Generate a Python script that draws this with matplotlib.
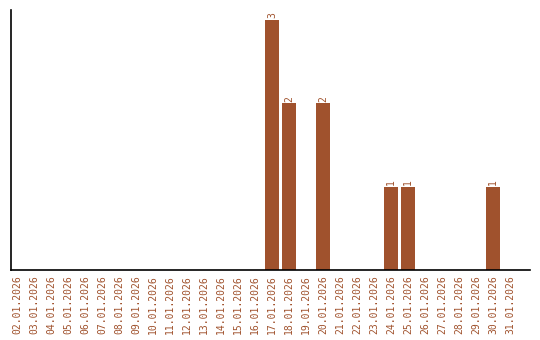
import matplotlib
matplotlib.use("Agg")
import matplotlib.pyplot as plt

dates = [f"{d:02d}.01.2026" for d in range(2, 32)]
counts = [0]*30
values = {"17.01.2026": 3, "18.01.2026": 2, "20.01.2026": 2,
          "24.01.2026": 1, "25.01.2026": 1, "30.01.2026": 1}
counts = [values.get(d, 0) for d in dates]

color = "#A0522D"
fig = plt.figure(figsize=(5.4, 3.4), dpi=100)
ax = fig.add_axes([11/540, 70/340, 519/540, 260/340])
x = list(range(len(dates)))
ax.bar(x, counts, width=0.82, color=color)
for xi, c in zip(x, counts):
    if c > 0:
        ax.text(xi, c + 0.02, str(c), rotation=90, ha="center", va="bottom",
                color=color, fontsize=7, family="DejaVu Sans Mono")
ax.set_xlim(-0.35, 30.18)
ax.set_ylim(0, 3.12)
ax.set_xticks(x)
ax.set_xticklabels(dates, rotation=90, color=color, fontsize=7, family="DejaVu Sans Mono")
ax.tick_params(axis="x", length=0, pad=4)
ax.set_yticks([])
for s in ["top", "right"]:
    ax.spines[s].set_visible(False)
ax.spines["left"].set_linewidth(1.2)
ax.spines["bottom"].set_linewidth(1.2)
fig.savefig("out.png", dpi=100)
